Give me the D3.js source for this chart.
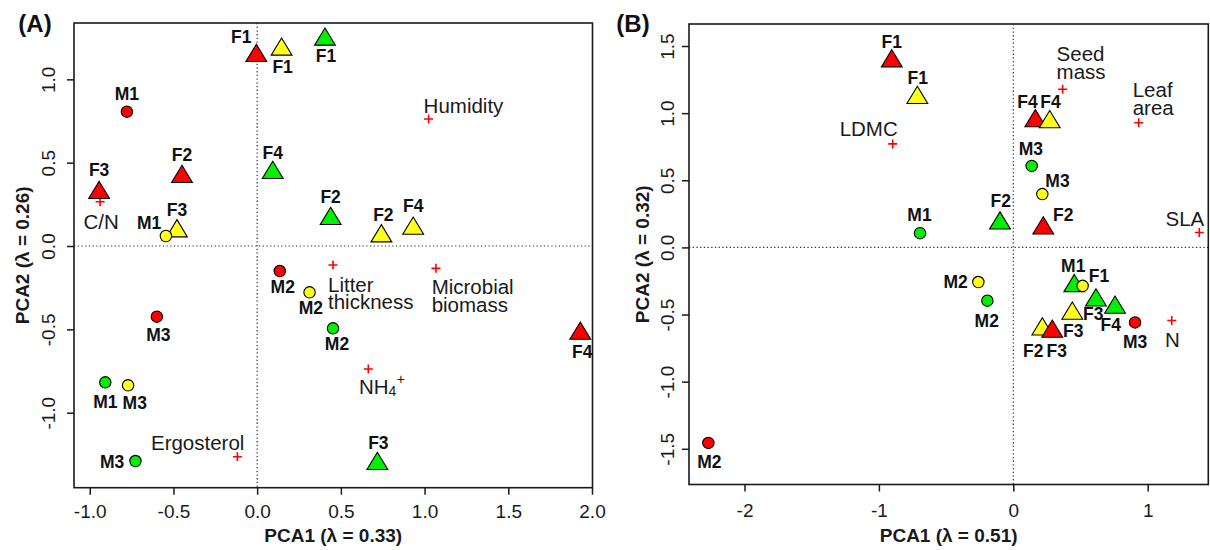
<!DOCTYPE html>
<html><head><meta charset="utf-8">
<script src="https://cdn.jsdelivr.net/npm/d3@7"></script>
<style>
body{margin:0;background:#fff}
text{font-family:"Liberation Sans",Arial,Helvetica,sans-serif}
</style>
</head><body>
<svg id="chart" width="1210" height="550"></svg>
<script>
// ---------------- DATA ----------------
// Panel A : sample scores
const aSampleLabels = ["F1","F1","F1","M1","F2","F3","F4","F3","M1","F2","F2","F4","M2","M2","M2","F3","F4","M3","M1","M3","M3"];
const aSampleGroups = ["red","yellow","green","red","red","red","green","yellow","yellow","green","yellow","yellow","red","yellow","green","green","red","red","green","yellow","green"];
const aSamplePCA1 = [-0.005,0.146,0.405,-0.778,-0.449,-0.944,0.093,-0.479,-0.545,0.439,0.742,0.932,0.135,0.313,0.453,0.718,1.930,-0.599,-0.907,-0.771,-0.727];
const aSamplePCA2 = [1.158,1.196,1.256,0.806,0.432,0.336,0.456,0.106,0.060,0.180,0.076,0.122,-0.150,-0.278,-0.494,-1.290,-0.508,-0.424,-0.818,-0.836,-1.290];
// Panel A : variables
const aVarLabels = ["C/N","Humidity","Litter\nthickness","Microbial\nbiomass","NH4+","Ergosterol"];
const aVarPCA1 = [-0.938,1.024,0.453,1.068,0.664,-0.118];
const aVarPCA2 = [0.266,0.762,-0.114,-0.134,-0.738,-1.264];
// Panel A : axes
const aXLimits = [-1.094, 2.003];
const aYLimits = [-1.45, 1.338];
const aXTicks = [-1.0,-0.5,0.0,0.5,1.0,1.5,2.0];
const aYTicks = [-1.0,-0.5,0.0,0.5,1.0];
const aXTitle = "PCA1 (λ = 0.33)";
const aYTitle = "PCA2 (λ = 0.26)";

// Panel B : sample scores
const bSampleLabels = ["F1","F1","F4","F4","M3","M3","F2","F2","M1","M2","M2","F1","M1","F3","F4","F3","M3","F2","F3","M2"];
const bSampleGroups = ["red","yellow","red","yellow","green","yellow","red","green","green","yellow","green","green","yellow","green","green","yellow","red","yellow","red","red"];
const bSamplePCA1 = [-0.904,-0.714,0.164,0.271,0.137,0.216,0.223,-0.099,-0.694,-0.260,-0.193,0.454,0.516,0.615,0.757,0.439,0.906,0.216,0.290,-2.269];
const bSamplePCA2 = [1.408,1.135,0.962,0.955,0.607,0.397,0.163,0.200,0.106,-0.258,-0.397,-0.266,-0.286,-0.373,-0.427,-0.472,-0.559,-0.589,-0.606,-1.456];
// Panel B : variables
const bVarLabels = ["LDMC","Seed\nmass","Leaf\narea","SLA","N"];
const bVarPCA1 = [-0.897,0.367,0.933,1.384,1.179];
const bVarPCA2 = [0.771,1.178,0.929,0.111,-0.544];
// Panel B : axes
const bXLimits = [-2.413, 1.451];
const bYLimits = [-1.766, 1.664];
const bXTicks = [-2,-1,0,1];
const bYTicks = [-1.5,-1.0,-0.5,0.0,0.5,1.0,1.5];
const bXTitle = "PCA1 (λ = 0.51)";
const bYTitle = "PCA2 (λ = 0.32)";

// ---------------- LAYOUT / STYLE ----------------
const groupFill = {red:"#ff0000", yellow:"#ffff1a", green:"#00f000"};
const aLabelNudge = [[-15,-16],[1,20],[1,19],[0,-17.5],[0,-19],[0,-20],[0,-17.5],[0,-18.3],[-16.7,-12.7],[0,-18.7],[2,-18.3],[0,-19.4],[3,16.3],[1.3,16],[4,16],[1,-17.7],[2,21],[1.5,18.3],[0,19.4],[6.7,17.4],[-23.3,0.7]];
const bLabelNudge = [[0,-16.6],[0.5,-17.5],[-7.8,-16.6],[0.8,-17.6],[-0.9,-16.7],[15.2,-13.3],[20,-10.7],[0.8,-20],[-0.5,-18.3],[-22.8,0],[-0.6,20],[24.7,-7.6],[-9.4,-20],[-2.7,16.6],[-4.3,20],[1,20],[0,19.6],[-9,24.3],[4.4,22],[1,19.4]];
const aVarLayout = [{a:"middle",dx:1,dy:19},{a:"start",dx:-5,dy:-14.5},{a:"start",dx:-5,dy:18.5},{a:"start",dx:-4.3,dy:17.8},{a:"start",dx:-9.4,dy:17},{a:"end",dx:7,dy:-15}];
const bVarLayout = [{a:"end",dx:5,dy:-15.7},{a:"start",dx:-6,dy:-35.8},{a:"start",dx:-6,dy:-33.3},{a:"end",dx:5,dy:-14.9},{a:"middle",dx:0.6,dy:18.5}];
const lineGap = 17.6;

const svg = d3.select("#chart");
const ink = "#1a1a1a";

function drawPanel(cfg) {
  const g = svg.append("g");
  const x = d3.scaleLinear().domain(cfg.xLim).range([cfg.left, cfg.right]);
  const y = d3.scaleLinear().domain(cfg.yLim).range([cfg.bottom, cfg.top]);
  const minus = s => s.replace("\u2212", "-");

  // zero reference lines (dotted)
  g.append("line").attr("x1", cfg.left).attr("x2", cfg.right).attr("y1", y(0)).attr("y2", y(0))
    .attr("stroke", "#333").attr("stroke-width", 1.2).attr("stroke-dasharray", "1.3,2.4");
  g.append("line").attr("y1", cfg.top).attr("y2", cfg.bottom).attr("x1", x(0)).attr("x2", x(0))
    .attr("stroke", "#333").attr("stroke-width", 1.2).attr("stroke-dasharray", "1.3,2.4");

  // x axis
  const xa = g.append("g").attr("transform", `translate(0,${cfg.bottom})`)
    .call(d3.axisBottom(x).tickValues(cfg.xTicks).tickFormat(d => minus(d3.format(cfg.xFmt)(d))).tickSize(7));
  xa.select(".domain").remove();
  xa.selectAll(".tick line").attr("stroke", ink).attr("stroke-width", 1.5);
  xa.selectAll(".tick text").attr("y", cfg.xLabOff).attr("dy", null).attr("dominant-baseline", "central")
    .attr("font-size", 19).attr("fill", ink).attr("font-family", null);

  // y axis
  const ya = g.append("g").attr("transform", `translate(${cfg.left},0)`)
    .call(d3.axisLeft(y).tickValues(cfg.yTicks).tickFormat(d => minus(d3.format(".1f")(d))).tickSize(7));
  ya.select(".domain").remove();
  ya.selectAll(".tick line").attr("stroke", ink).attr("stroke-width", 1.5);
  ya.selectAll(".tick text").attr("x", null).attr("dy", null).attr("text-anchor", "middle")
    .attr("transform", `translate(${-cfg.yLabOff},0) rotate(-90)`)
    .attr("font-size", 19).attr("fill", ink).attr("font-family", null);

  // box
  g.append("rect").attr("x", cfg.left).attr("y", cfg.top)
    .attr("width", cfg.right - cfg.left).attr("height", cfg.bottom - cfg.top)
    .attr("fill", "none").attr("stroke", ink).attr("stroke-width", 1.6);

  // axis titles
  g.append("text").attr("x", (cfg.left + cfg.right) / 2).attr("y", cfg.xTitleY)
    .attr("text-anchor", "middle").attr("dominant-baseline", "central")
    .attr("font-size", 19).attr("font-weight", "bold").attr("fill", ink).text(cfg.xTitle);
  g.append("text").attr("transform", `translate(${cfg.yTitleX},${(cfg.top + cfg.bottom) / 2}) rotate(-90)`)
    .attr("text-anchor", "middle").attr("dominant-baseline", "central")
    .attr("font-size", 19).attr("font-weight", "bold").attr("fill", ink).text(cfg.yTitle);

  // panel tag
  g.append("text").attr("x", cfg.tagX).attr("y", 23).attr("text-anchor", "middle")
    .attr("dominant-baseline", "central").attr("font-size", 24).attr("font-weight", "bold")
    .attr("fill", "#111").text(cfg.tag);

  // variables (red crosses)
  const vars = cfg.varLabels.map((l, i) => ({label: l, p1: cfg.varP1[i], p2: cfg.varP2[i], lay: cfg.varLayout[i]}));
  g.selectAll(".cross").data(vars).join("path")
    .attr("d", "M-4.5,0H4.5M0,-4.5V4.5")
    .attr("transform", d => `translate(${x(d.p1)},${y(d.p2)})`)
    .attr("stroke", "#ff0000").attr("stroke-width", 1.6).attr("fill", "none");
  vars.forEach(d => {
    const t = g.append("text").attr("x", x(d.p1) + d.lay.dx).attr("y", y(d.p2) + d.lay.dy)
      .attr("text-anchor", d.lay.a).attr("dominant-baseline", "central")
      .attr("font-size", 20.5).attr("fill", ink);
    if (d.label === "NH4+") {
      t.append("tspan").text("NH");
      t.append("tspan").attr("font-size", 14).attr("dy", 5).text("4");
      t.append("tspan").attr("font-size", 14).attr("dy", -12).attr("dx", 0.5).text("+");
    } else {
      d.label.split("\n").forEach((line, k) => {
        t.append("tspan").attr("x", x(d.p1) + d.lay.dx).attr("dy", k === 0 ? 0 : lineGap).text(line);
      });
    }
  });

  // samples
  const samples = cfg.labels.map((l, i) => ({label: l, group: cfg.groups[i], p1: cfg.p1[i], p2: cfg.p2[i], nudge: cfg.nudge[i]}));
  const tri = "M0,-8.7L10.4,8.5L-10.4,8.5Z";
  const circ = d3.symbol(d3.symbolCircle, Math.PI * 5.7 * 5.7)();
  g.selectAll(".pt").data(samples).join("path")
    .attr("d", d => d.label[0] === "F" ? tri : circ)
    .attr("transform", d => `translate(${x(d.p1)},${y(d.p2)})`)
    .attr("fill", d => groupFill[d.group]).attr("stroke", "#000").attr("stroke-width", 1.1);
  g.selectAll(".plab").data(samples).join("text")
    .attr("x", d => x(d.p1) + d.nudge[0]).attr("y", d => y(d.p2) + d.nudge[1])
    .attr("text-anchor", "middle").attr("dominant-baseline", "central")
    .attr("font-size", 17.5).attr("font-weight", "bold").attr("fill", "#111")
    .text(d => d.label);
}

drawPanel({
  tag: "(A)", tagX: 35,
  left: 74, right: 592.5, top: 23, bottom: 487.7,
  xLim: aXLimits, yLim: aYLimits, xTicks: aXTicks, yTicks: aYTicks, xFmt: ".1f",
  xTitle: aXTitle, yTitle: aYTitle, xTitleY: 535, yTitleX: 22.5,
  xLabOff: 24, yLabOff: 19,
  labels: aSampleLabels, groups: aSampleGroups, p1: aSamplePCA1, p2: aSamplePCA2, nudge: aLabelNudge,
  varLabels: aVarLabels, varP1: aVarPCA1, varP2: aVarPCA2, varLayout: aVarLayout
});
drawPanel({
  tag: "(B)", tagX: 633,
  left: 689, right: 1208.3, top: 24, bottom: 484.5,
  xLim: bXLimits, yLim: bYLimits, xTicks: bXTicks, yTicks: bYTicks, xFmt: "d",
  xTitle: bXTitle, yTitle: bYTitle, xTitleY: 535.5, yTitleX: 642,
  xLabOff: 25.5, yLabOff: 15,
  labels: bSampleLabels, groups: bSampleGroups, p1: bSamplePCA1, p2: bSamplePCA2, nudge: bLabelNudge,
  varLabels: bVarLabels, varP1: bVarPCA1, varP2: bVarPCA2, varLayout: bVarLayout
});
</script>
</body></html>
